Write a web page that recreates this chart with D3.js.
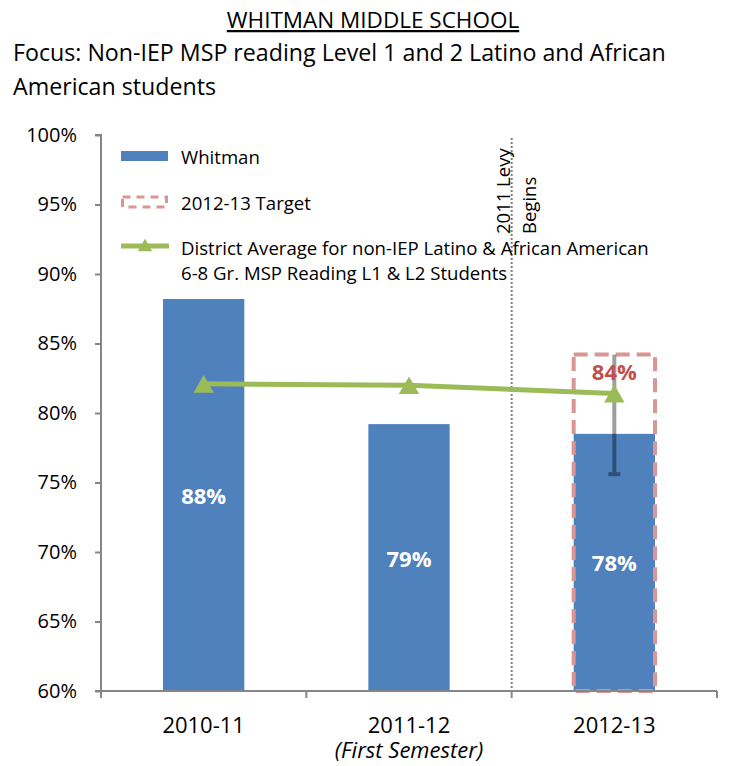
<!DOCTYPE html>
<html>
<head>
<meta charset="utf-8">
<script src="https://cdn.jsdelivr.net/npm/d3@7"></script>
<style>
  body { margin: 0; background: #fff; }
  text { font-family: "Open Sans", "Noto Sans", sans-serif; fill: #000; }
</style>
</head>
<body>
<div id="chart"></div>
<script>
const categories = ['2010-11', '2011-12', '2012-13'];
const whitman = [0.882, 0.792, 0.785];
const whitmanLabels = ['88%', '79%', '78%'];
const districtAvg = [0.821, 0.820, 0.814];
const target = [null, null, 0.842];
const targetLabels = [null, null, '84%'];
const targetErrLow = [null, null, 0.756];
const yTicks = [0.6, 0.65, 0.7, 0.75, 0.8, 0.85, 0.9, 0.95, 1.0];

const width = 730;
const height = 766;

const blue = '#4f81bd';
const green = '#9bbb59';
const pink = '#d99694';
const red = '#c0504d';
const axisGray = '#868686';

const svg = d3.select('#chart').append('svg')
    .attr('width', width)
    .attr('height', height);

const x = d3.scaleBand()
    .domain(categories)
    .range([101, 717])
    .paddingInner(0.604)
    .paddingOuter(0.302);

const y = d3.scaleLinear()
    .domain([0.6, 1.0])
    .range([691, 135]);

const cx = i => x(categories[i]) + x.bandwidth() / 2;

// titles
svg.append('text')
    .attr('x', 373)
    .attr('y', 28)
    .attr('text-anchor', 'middle')
    .attr('font-size', 22.5)
    .attr('text-decoration', 'underline')
    .text('WHITMAN MIDDLE SCHOOL');

svg.append('text')
    .attr('x', 13)
    .attr('y', 61)
    .attr('font-size', 23.2)
    .text('Focus: Non-IEP MSP reading Level 1 and 2 Latino and African');

svg.append('text')
    .attr('x', 13)
    .attr('y', 95)
    .attr('font-size', 23.2)
    .text('American students');

// bars
svg.selectAll('.bar')
  .data(categories)
  .join('rect')
    .attr('class', 'bar')
    .attr('x', d => x(d))
    .attr('width', x.bandwidth())
    .attr('y', (d, i) => y(whitman[i]))
    .attr('height', (d, i) => y(0.6) - y(whitman[i]))
    .attr('fill', blue);

// target box
const tIdx = target.map((d, i) => i).filter(i => target[i] !== null);
svg.selectAll('.target')
  .data(tIdx)
  .join('rect')
    .attr('class', 'target')
    .attr('x', i => x(categories[i]))
    .attr('width', x.bandwidth())
    .attr('y', i => y(target[i]))
    .attr('height', i => y(0.6) - y(target[i]))
    .attr('fill', 'none')
    .attr('stroke', pink)
    .attr('stroke-width', 4)
    .attr('stroke-dasharray', '14,7');

// error bar
svg.selectAll('.err')
  .data(tIdx)
  .join('g')
    .attr('class', 'err')
    .attr('stroke', '#000')
    .attr('stroke-opacity', 0.38)
    .attr('stroke-width', 4)
    .call(g => g.append('line')
        .attr('x1', cx)
        .attr('x2', cx)
        .attr('y1', i => y(target[i]))
        .attr('y2', i => y(targetErrLow[i]) - 2))
    .call(g => g.append('line')
        .attr('x1', i => cx(i) - 6)
        .attr('x2', i => cx(i) + 6)
        .attr('y1', i => y(targetErrLow[i]))
        .attr('y2', i => y(targetErrLow[i])));

// levy divider
const levyX = x.range()[0] + x.step() * 2;
svg.append('line')
    .attr('x1', levyX)
    .attr('x2', levyX)
    .attr('y1', 138)
    .attr('y2', y(0.6))
    .attr('stroke', '#7f7f7f')
    .attr('stroke-width', 2)
    .attr('stroke-dasharray', '2,2');

const levy = svg.append('text')
    .attr('transform', `translate(${levyX - 2},234) rotate(-90)`)
    .attr('font-size', 18.5);
levy.append('tspan').attr('x', 0).attr('dy', 0).text('2011 Levy');
levy.append('tspan').attr('x', 0).attr('dy', 26).text('Begins');

// district line
const line = d3.line()
    .x((d, i) => cx(i))
    .y(d => y(d));

svg.append('path')
    .datum(districtAvg)
    .attr('d', line)
    .attr('fill', 'none')
    .attr('stroke', green)
    .attr('stroke-width', 5);

const tri = d3.symbol().type(d3.symbolTriangle).size(180);
svg.selectAll('.marker')
  .data(districtAvg)
  .join('path')
    .attr('class', 'marker')
    .attr('transform', (d, i) => `translate(${cx(i)},${y(d) + 3})`)
    .attr('d', tri)
    .attr('fill', green);

// bar labels
svg.selectAll('.bar-label')
  .data(categories)
  .join('text')
    .attr('class', 'bar-label')
    .attr('x', d => x(d) + x.bandwidth() / 2)
    .attr('y', (d, i) => (y(whitman[i]) + y(0.6)) / 2)
    .attr('text-anchor', 'middle')
    .attr('dominant-baseline', 'central')
    .attr('font-size', 22)
    .attr('font-weight', 'bold')
    .style('fill', '#fff')
    .text((d, i) => whitmanLabels[i]);

svg.selectAll('.target-label')
  .data(tIdx)
  .join('text')
    .attr('class', 'target-label')
    .attr('x', cx)
    .attr('y', i => y(target[i]) + 16)
    .attr('text-anchor', 'middle')
    .attr('dominant-baseline', 'central')
    .attr('font-size', 22)
    .attr('font-weight', 'bold')
    .style('fill', red)
    .text(i => targetLabels[i]);

// axes
const yAxis = svg.append('g')
    .attr('transform', `translate(${x.range()[0]},0)`)
    .call(d3.axisLeft(y).tickValues(yTicks).tickFormat(d3.format('.0%')).tickSize(6).tickPadding(18));
yAxis.selectAll('line, path').attr('stroke', axisGray).attr('stroke-width', 2);
yAxis.select('.domain').attr('d', `M-6,${y(1)}H0V${y(0.6)}`);
yAxis.selectAll('text')
    .attr('font-size', 20)
    .attr('font-family', '"Open Sans", sans-serif')
    .style('fill', '#000');

const xAxis = svg.append('g')
    .attr('transform', `translate(0,${y(0.6)})`);
xAxis.append('line')
    .attr('x1', x.range()[0] - 6)
    .attr('x2', x.range()[1])
    .attr('stroke', axisGray)
    .attr('stroke-width', 2);
xAxis.selectAll('.xtick')
  .data(d3.range(categories.length + 1))
  .join('line')
    .attr('class', 'xtick')
    .attr('x1', i => x.range()[0] + i * x.step())
    .attr('x2', i => x.range()[0] + i * x.step())
    .attr('y1', 0)
    .attr('y2', 7)
    .attr('stroke', axisGray)
    .attr('stroke-width', 2);
xAxis.selectAll('.xlabel')
  .data(categories)
  .join('text')
    .attr('class', 'xlabel')
    .attr('x', d => x(d) + x.bandwidth() / 2)
    .attr('y', 42)
    .attr('text-anchor', 'middle')
    .attr('font-size', 22)
    .text(d => d);
xAxis.append('text')
    .attr('x', cx(1))
    .attr('y', 67)
    .attr('text-anchor', 'middle')
    .attr('font-size', 22)
    .attr('font-style', 'italic')
    .text('(First Semester)');

// legend
const legend = svg.append('g').attr('transform', 'translate(121,0)');
const legendFont = 18.6;
legend.append('rect')
    .attr('x', 0).attr('y', 151)
    .attr('width', 47).attr('height', 10)
    .attr('fill', blue);
legend.append('text')
    .attr('x', 60).attr('y', 156)
    .attr('dominant-baseline', 'central')
    .attr('font-size', legendFont)
    .text('Whitman');

legend.append('rect')
    .attr('x', 1.5).attr('y', 197)
    .attr('width', 44).attr('height', 10)
    .attr('fill', 'none')
    .attr('stroke', pink)
    .attr('stroke-width', 3)
    .attr('stroke-dasharray', '8,6');
legend.append('text')
    .attr('x', 60).attr('y', 202)
    .attr('dominant-baseline', 'central')
    .attr('font-size', legendFont)
    .text('2012-13 Target');

legend.append('line')
    .attr('x1', 0).attr('x2', 48)
    .attr('y1', 246).attr('y2', 246)
    .attr('stroke', green)
    .attr('stroke-width', 5);
legend.append('path')
    .attr('transform', 'translate(24,247)')
    .attr('d', d3.symbol().type(d3.symbolTriangle).size(90))
    .attr('fill', green);
legend.append('text')
    .attr('x', 60).attr('y', 247)
    .attr('dominant-baseline', 'central')
    .attr('font-size', legendFont)
    .text('District Average for non-IEP Latino & African American');
legend.append('text')
    .attr('x', 60).attr('y', 272)
    .attr('dominant-baseline', 'central')
    .attr('font-size', legendFont)
    .text('6-8 Gr. MSP Reading L1 & L2 Students');
</script>
</body>
</html>
